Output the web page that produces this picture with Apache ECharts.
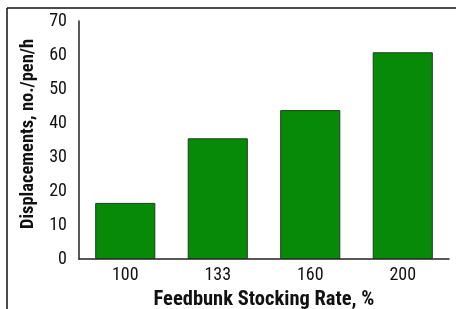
<!DOCTYPE html>
<html><head><meta charset="utf-8">
<script src="https://cdn.jsdelivr.net/npm/echarts@6/dist/echarts.min.js"></script>
<style>html,body{margin:0;padding:0;background:#fff}#c{width:456px;height:309px}</style>
</head><body><div id="c"></div>
<script>
const categories = ['100', '133', '160', '200'];
const displacements = [16.5, 35.5, 43.8, 60.8];
const yTicks = [0, 10, 20, 30, 40, 50, 60, 70];

const font = '"Roboto Condensed", "Open Sans Condensed", "DejaVu Sans Condensed", sans-serif';
const chart = echarts.init(document.getElementById('c'));
chart.setOption({
  animation: false,
  backgroundColor: '#fff',
  grid: { left: 79, right: 7, top: 21, bottom: 50, containLabel: false, outerBoundsMode: 'none' },
  graphic: [
    { type: 'line', shape: { x1: 7, y1: 8, x2: 456, y2: 8 }, style: { stroke: '#111', lineWidth: 1.5 } },
    { type: 'line', shape: { x1: 7, y1: 8, x2: 7, y2: 309 }, style: { stroke: '#111', lineWidth: 1.5 } }
  ],
  xAxis: {
    type: 'category', data: categories,
    axisLine: { lineStyle: { color: '#222', width: 1.5 } },
    axisTick: { show: false },
    axisLabel: { fontFamily: font, fontSize: 18, color: '#111', margin: 7 },
    name: 'Feedbunk Stocking Rate, %', nameLocation: 'middle', nameGap: 28,
    nameTextStyle: { fontFamily: font, fontSize: 20.5, fontWeight: 'bold', color: '#111' }
  },
  yAxis: {
    type: 'value', min: yTicks[0], max: yTicks[yTicks.length - 1], interval: 10,
    axisLine: { show: true, lineStyle: { color: '#222', width: 1.5 } },
    axisTick: { show: false },
    splitLine: { show: false },
    axisLabel: { fontFamily: font, fontSize: 18, color: '#111', margin: 12 },
    name: 'Displacements, no./pen/h', nameLocation: 'middle', nameGap: 36,
    nameTextStyle: { fontFamily: font, fontSize: 18.5, fontWeight: 'bold', color: '#111', padding: [0, 0, 0, 12] }
  },
  series: [{
    type: 'bar', data: displacements, barWidth: '65%',
    itemStyle: { color: '#078a07', borderColor: '#1d3d1d', borderWidth: 1 }
  }]
});
</script></body></html>
